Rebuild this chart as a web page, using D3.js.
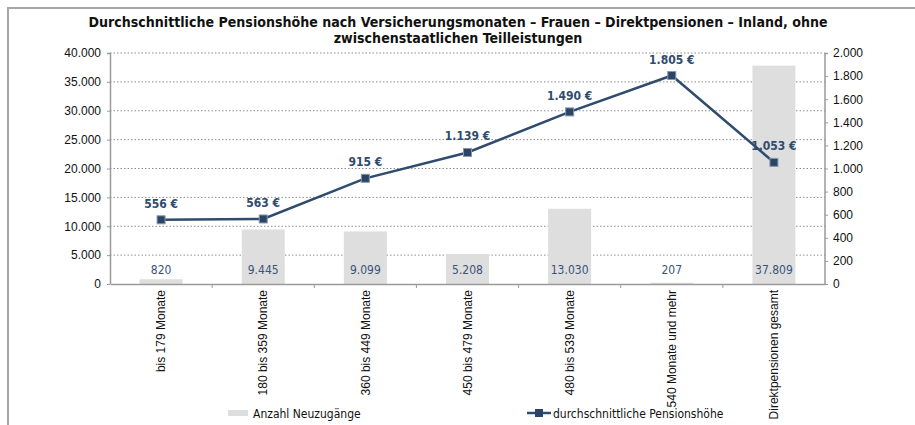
<!DOCTYPE html>
<html>
<head>
<meta charset="utf-8">
<script src="https://cdn.jsdelivr.net/npm/d3@7"></script>
<style>
  body { margin: 0; background: #fff; }
  svg { display: block; font-family: "Liberation Sans Narrow", "DejaVu Sans Condensed", "Liberation Sans", Arial, sans-serif; }
</style>
</head>
<body>
<svg id="chart" width="915" height="425"></svg>
<script>
var categories = ["bis 179 Monate", "180 bis 359 Monate", "360 bis 449 Monate", "450 bis 479 Monate",
                  "480 bis 539 Monate", "540 Monate und mehr", "Direktpensionen gesamt"];
var neuzugaenge = [820, 9445, 9099, 5208, 13030, 207, 37809];
var pensionshoehe = [556, 563, 915, 1139, 1490, 1805, 1053];
var leftTicks = [0, 5000, 10000, 15000, 20000, 25000, 30000, 35000, 40000];
var rightTicks = [0, 200, 400, 600, 800, 1000, 1200, 1400, 1600, 1800, 2000];
var titleLines = ["Durchschnittliche Pensionshöhe nach Versicherungsmonaten – Frauen – Direktpensionen – Inland, ohne",
                  "zwischenstaatlichen Teilleistungen"];

var fmt = function(v) { return d3.format(",")(v).replace(/,/g, "."); };

var svg = d3.select("#chart");
var margin = {top: 53, left: 110, right: 90, bottom: 141};
var width = 915 - margin.left - margin.right,
    height = 425 - margin.top - margin.bottom;

// frame
svg.append("rect")
  .attr("x", 8).attr("y", 8)
  .attr("width", 930).attr("height", 440)
  .attr("fill", "none")
  .attr("stroke", "#a6a6a6")
  .attr("stroke-width", 2);

// title (squeezed horizontally to match the condensed look)
var tg = svg.append("g");
tg.selectAll(".title")
  .data(titleLines)
  .enter().append("text")
  .attr("class", "title")
  .attr("x", 0)
  .attr("y", function(d, i) { return 27 + i * 16; })
  .attr("text-anchor", "middle")
  .style("font-size", "14px")
  .style("font-weight", "bold")
  .attr("fill", "#111")
  .text(function(d) { return d; });
var tw = tg.select(".title").node().getComputedTextLength();
tg.attr("transform", "translate(458,0) scale(" + (740 / tw) + ",1)");

var g = svg.append("g").attr("transform", "translate(" + margin.left + "," + margin.top + ")");

var x = d3.scaleBand().domain(categories).range([0, width]);
var yL = d3.scaleLinear().domain([0, 40000]).range([height, 0]);
var yR = d3.scaleLinear().domain([0, 2000]).range([height, 0]);

// gridlines
g.selectAll(".grid")
  .data(leftTicks.slice(1))
  .enter().append("line")
  .attr("x1", 0).attr("x2", width)
  .attr("y1", function(d) { return yL(d); })
  .attr("y2", function(d) { return yL(d); })
  .attr("stroke", "#8c8c8c")
  .attr("stroke-dasharray", "1.5,2");

// bars
g.selectAll(".bar")
  .data(neuzugaenge)
  .enter().append("rect")
  .attr("class", "bar")
  .attr("x", function(d, i) { return x(categories[i]) + x.bandwidth() / 2 - 21.5; })
  .attr("width", 43)
  .attr("y", function(d) { return yL(d); })
  .attr("height", function(d) { return height - yL(d); })
  .attr("fill", "#dedede");

g.selectAll(".barlabel")
  .data(neuzugaenge)
  .enter().append("text")
  .attr("x", function(d, i) { return x(categories[i]) + x.bandwidth() / 2; })
  .attr("y", height - 10)
  .attr("text-anchor", "middle")
  .style("font-size", "12px")
  .attr("fill", "#3b5378")
  .text(function(d) { return fmt(d); });

// axes
var axL = g.append("g")
  .call(d3.axisLeft(yL).tickValues(leftTicks).tickFormat(fmt).tickSize(3).tickPadding(6));
var axR = g.append("g")
  .attr("transform", "translate(" + width + ",0)")
  .call(d3.axisRight(yR).tickValues(rightTicks).tickFormat(fmt).tickSize(3).tickPadding(5));
var axX = g.append("g")
  .attr("transform", "translate(0," + height + ")")
  .call(d3.axisBottom(x).tickSize(0).tickPadding(0));

[axL, axR].forEach(function(a) {
  a.select(".domain").attr("stroke", "#9a9a9a").attr("stroke-width", 1.5);
  a.selectAll(".tick line").attr("stroke", "#9a9a9a");
  a.selectAll("text").style("font-size", "12px").attr("fill", "#111");
});
axL.select(".domain").attr("d", "M-3,0.5H0.5V" + height);
axR.select(".domain").attr("d", "M3,0.5H0V" + height);

axX.select(".domain").attr("stroke", "#9a9a9a").attr("stroke-width", 1.5);
axX.selectAll(".tick line").remove();
axX.selectAll(".tick text")
  .attr("transform", "rotate(-90)")
  .attr("x", -6).attr("y", 0).attr("dy", "0.35em")
  .style("text-anchor", "end")
  .style("font-size", "12px")
  .attr("fill", "#111");

// separators between categories
g.selectAll(".sep")
  .data(categories.slice(1))
  .enter().append("line")
  .attr("x1", function(d) { return x(d); })
  .attr("x2", function(d) { return x(d); })
  .attr("y1", height).attr("y2", height + 4)
  .attr("stroke", "#9a9a9a");

// line
var line = d3.line()
  .x(function(d, i) { return x(categories[i]) + x.bandwidth() / 2; })
  .y(function(d) { return yR(d); });

g.append("path")
  .datum(pensionshoehe)
  .attr("d", line)
  .attr("fill", "none")
  .attr("stroke", "#2f4b6e")
  .attr("stroke-width", 2.5);

g.selectAll(".marker")
  .data(pensionshoehe)
  .enter().append("rect")
  .attr("x", function(d, i) { return x(categories[i]) + x.bandwidth() / 2 - 4; })
  .attr("y", function(d) { return yR(d) - 4; })
  .attr("width", 8).attr("height", 8)
  .attr("fill", "#2a4468")
  .attr("stroke", "#8796ab")
  .attr("stroke-width", 1);

g.selectAll(".linelabel")
  .data(pensionshoehe)
  .enter().append("text")
  .attr("x", function(d, i) { return x(categories[i]) + x.bandwidth() / 2; })
  .attr("y", function(d) { return yR(d) - 12; })
  .attr("text-anchor", "middle")
  .style("font-size", "12px")
  .style("font-weight", "bold")
  .attr("fill", "#2f4b6e")
  .text(function(d) { return fmt(d) + " €"; });

// legend
var leg = svg.append("g");
leg.append("rect")
  .attr("x", 228).attr("y", 410).attr("width", 20).attr("height", 6)
  .attr("fill", "#dedede");
leg.append("text")
  .attr("x", 253).attr("y", 418)
  .style("font-size", "12px").attr("fill", "#111")
  .text("Anzahl Neuzugänge");
leg.append("line")
  .attr("x1", 527).attr("x2", 551).attr("y1", 413).attr("y2", 413)
  .attr("stroke", "#2f4b6e").attr("stroke-width", 2.5);
leg.append("rect")
  .attr("x", 535).attr("y", 409).attr("width", 8).attr("height", 8)
  .attr("fill", "#2a4468");
leg.append("text")
  .attr("x", 553).attr("y", 418)
  .style("font-size", "12px").attr("fill", "#111")
  .text("durchschnittliche Pensionshöhe");
</script>
</body>
</html>
